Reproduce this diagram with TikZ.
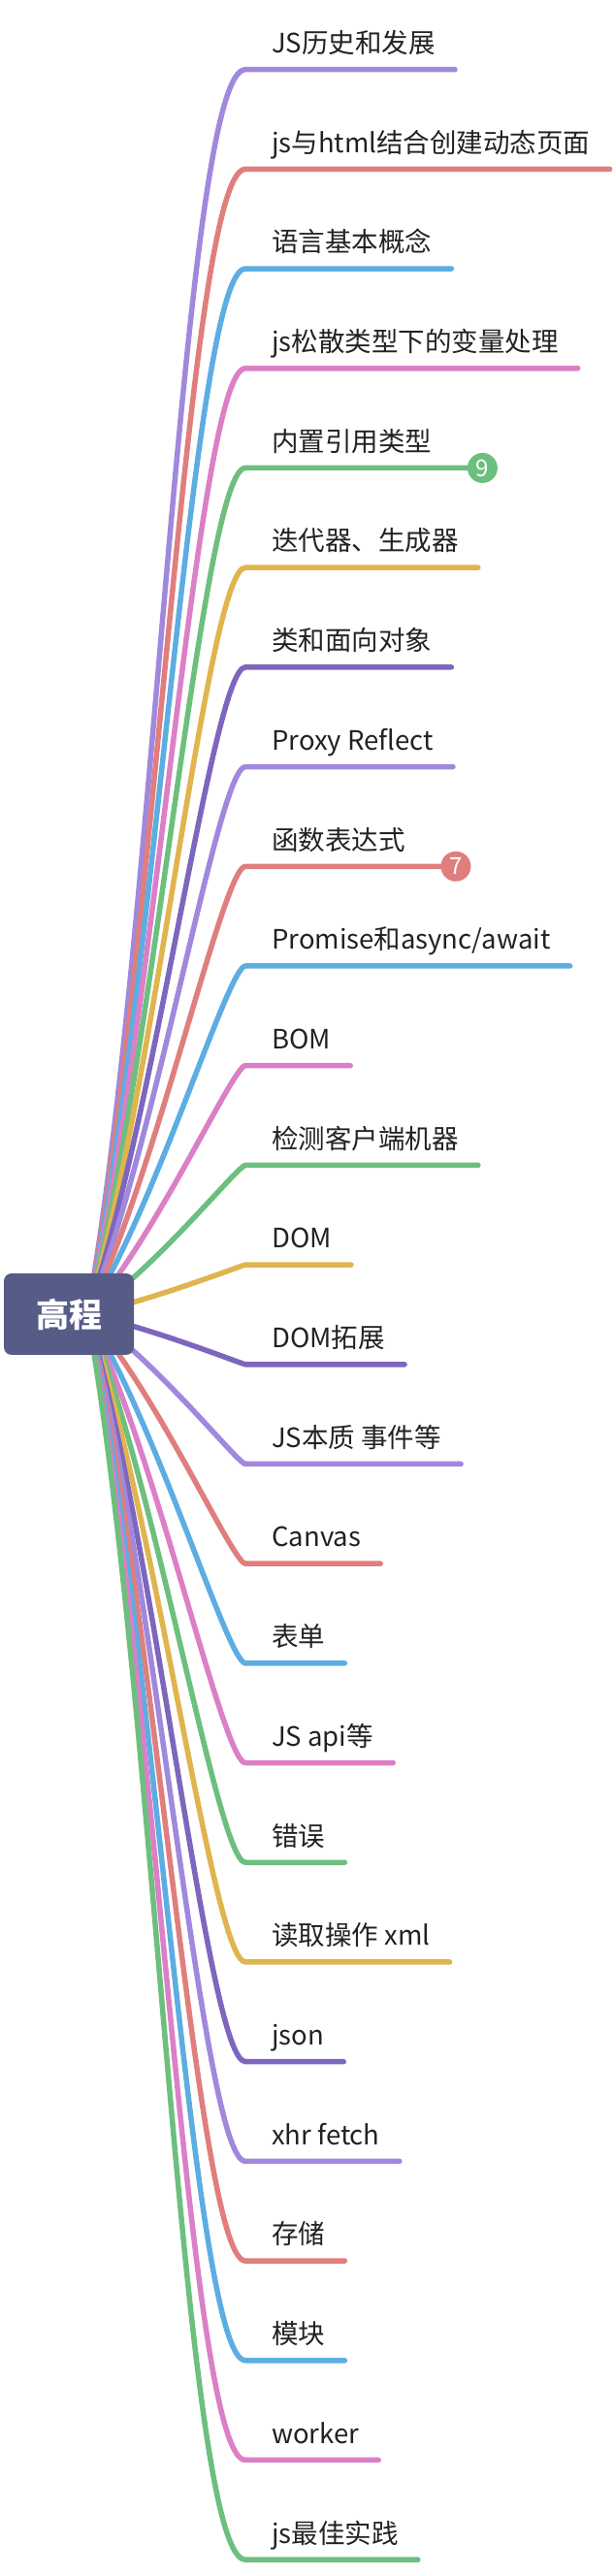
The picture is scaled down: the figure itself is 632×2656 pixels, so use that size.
\documentclass[tikz,border=0pt]{standalone}
\usepackage{fontspec}
\setmainfont{Noto Sans CJK SC}
\usepackage{xcolor}
\definecolor{cRoot}{HTML}{565B87}
\definecolor{cText}{HTML}{222222}
\definecolor{cLilac}{HTML}{A088DD}
\definecolor{cRed}{HTML}{E07E7E}
\definecolor{cBlue}{HTML}{5DADE2}
\definecolor{cPink}{HTML}{DB7FC7}
\definecolor{cGreen}{HTML}{6DBF7E}
\definecolor{cYellow}{HTML}{E0B44E}
\definecolor{cViolet}{HTML}{7D66BD}
\usepackage{tikz}
\usetikzlibrary{calc,backgrounds}
\tikzset{
  node-root/.style={fill=cRoot,rounded corners=8pt,minimum width=134pt,
    minimum height=84pt,inner sep=0pt,text=white,
    font=\fontsize{34}{40}\selectfont\bfseries},
  node-topic/.style={anchor=south west,inner xsep=20pt,inner ysep=17pt,
    text height=20pt,text depth=0pt,text=cText,
    font=\fontsize{27.5}{32}\selectfont},
  node-badge/.style={circle,minimum size=31pt,inner sep=0pt,text=white,
    font=\fontsize{24}{28}\selectfont},
  line-branch/.style={line width=5.5pt,line cap=round,line join=round},
  % curve leaves the root to the right and ends flat under the topic
  branch/.style={to path={let \p1=(\tikztostart),\p2=(\tikztotarget),
    \n1={abs(\y2-\y1)} in
    .. controls (\x1+70pt,{\y1+0.3*(\y2-\y1)}) and ({\x2-0.05pt*\n1},\y2)
    .. (\tikztotarget)}},
}

\begin{document}
\begin{tikzpicture}[x=1pt,y=1pt]
  \useasboundingbox (0,0) rectangle (632,2656);
  \node[node-root] (root) at (71,1301) {高程};
  \coordinate (hub) at ([xshift=19pt]root.center);

  \node[node-topic] (t1) at (260,2584.3) {JS历史和发展};
  \node[node-topic] (t2) at (260,2481.6) {js与html结合创建动态页面};
  \node[node-topic] (t3) at (260,2378.9) {语言基本概念};
  \node[node-topic] (t4) at (260,2276.2) {js松散类型下的变量处理};
  \node[node-topic] (t5) at (260,2173.5) {内置引用类型};
  \node[node-topic] (t6) at (260,2070.8) {迭代器、生成器};
  \node[node-topic] (t7) at (260,1968.1) {类和面向对象};
  \node[node-topic] (t8) at (260,1865.4) {Proxy Reflect};
  \node[node-topic] (t9) at (260,1762.7) {函数表达式};
  \node[node-topic] (t10) at (260,1660.0) {Promise和async/await};
  \node[node-topic] (t11) at (260,1557.3) {BOM};
  \node[node-topic] (t12) at (260,1454.6) {检测客户端机器};
  \node[node-topic] (t13) at (260,1351.9) {DOM};
  \node[node-topic] (t14) at (260,1249.2) {DOM拓展};
  \node[node-topic] (t15) at (260,1146.5) {JS本质 事件等};
  \node[node-topic] (t16) at (260,1043.8) {Canvas};
  \node[node-topic] (t17) at (260,941.1) {表单};
  \node[node-topic] (t18) at (260,838.4) {JS api等};
  \node[node-topic] (t19) at (260,735.7) {错误};
  \node[node-topic] (t20) at (260,633.0) {读取操作 xml};
  \node[node-topic] (t21) at (260,530.3) {json};
  \node[node-topic] (t22) at (260,427.6) {xhr fetch};
  \node[node-topic] (t23) at (260,324.9) {存储};
  \node[node-topic] (t24) at (260,222.2) {模块};
  \node[node-topic] (t25) at (260,119.5) {worker};
  \node[node-topic] (t26) at (260,16.8) {js最佳实践};

  \node[node-badge,fill=cGreen] (b5) at ([xshift=32pt]t5.south east) {9};
  \node[node-badge,fill=cRed] (b9) at ([xshift=32pt]t9.south east) {7};

  \begin{scope}[on background layer]
    \draw[line-branch,cLilac] (hub) to[branch] ([xshift=-7pt]t1.south west) -- (t1.south east);
    \draw[line-branch,cRed] (hub) to[branch] ([xshift=-7pt]t2.south west) -- (t2.south east);
    \draw[line-branch,cBlue] (hub) to[branch] ([xshift=-7pt]t3.south west) -- (t3.south east);
    \draw[line-branch,cPink] (hub) to[branch] ([xshift=-7pt]t4.south west) -- (t4.south east);
    \draw[line-branch,cGreen] (hub) to[branch] ([xshift=-7pt]t5.south west) -- (b5.center);
    \draw[line-branch,cYellow] (hub) to[branch] ([xshift=-7pt]t6.south west) -- (t6.south east);
    \draw[line-branch,cViolet] (hub) to[branch] ([xshift=-7pt]t7.south west) -- (t7.south east);
    \draw[line-branch,cLilac] (hub) to[branch] ([xshift=-7pt]t8.south west) -- (t8.south east);
    \draw[line-branch,cRed] (hub) to[branch] ([xshift=-7pt]t9.south west) -- (b9.center);
    \draw[line-branch,cBlue] (hub) to[branch] ([xshift=-7pt]t10.south west) -- (t10.south east);
    \draw[line-branch,cPink] (hub) to[branch] ([xshift=-7pt]t11.south west) -- (t11.south east);
    \draw[line-branch,cGreen] (hub) to[branch] ([xshift=-7pt]t12.south west) -- (t12.south east);
    \draw[line-branch,cYellow] (hub) to[branch] ([xshift=-7pt]t13.south west) -- (t13.south east);
    \draw[line-branch,cViolet] (hub) to[branch] ([xshift=-7pt]t14.south west) -- (t14.south east);
    \draw[line-branch,cLilac] (hub) to[branch] ([xshift=-7pt]t15.south west) -- (t15.south east);
    \draw[line-branch,cRed] (hub) to[branch] ([xshift=-7pt]t16.south west) -- (t16.south east);
    \draw[line-branch,cBlue] (hub) to[branch] ([xshift=-7pt]t17.south west) -- (t17.south east);
    \draw[line-branch,cPink] (hub) to[branch] ([xshift=-7pt]t18.south west) -- (t18.south east);
    \draw[line-branch,cGreen] (hub) to[branch] ([xshift=-7pt]t19.south west) -- (t19.south east);
    \draw[line-branch,cYellow] (hub) to[branch] ([xshift=-7pt]t20.south west) -- (t20.south east);
    \draw[line-branch,cViolet] (hub) to[branch] ([xshift=-7pt]t21.south west) -- (t21.south east);
    \draw[line-branch,cLilac] (hub) to[branch] ([xshift=-7pt]t22.south west) -- (t22.south east);
    \draw[line-branch,cRed] (hub) to[branch] ([xshift=-7pt]t23.south west) -- (t23.south east);
    \draw[line-branch,cBlue] (hub) to[branch] ([xshift=-7pt]t24.south west) -- (t24.south east);
    \draw[line-branch,cPink] (hub) to[branch] ([xshift=-7pt]t25.south west) -- (t25.south east);
    \draw[line-branch,cGreen] (hub) to[branch] ([xshift=-7pt]t26.south west) -- (t26.south east);
  \end{scope}
\end{tikzpicture}
\end{document}
